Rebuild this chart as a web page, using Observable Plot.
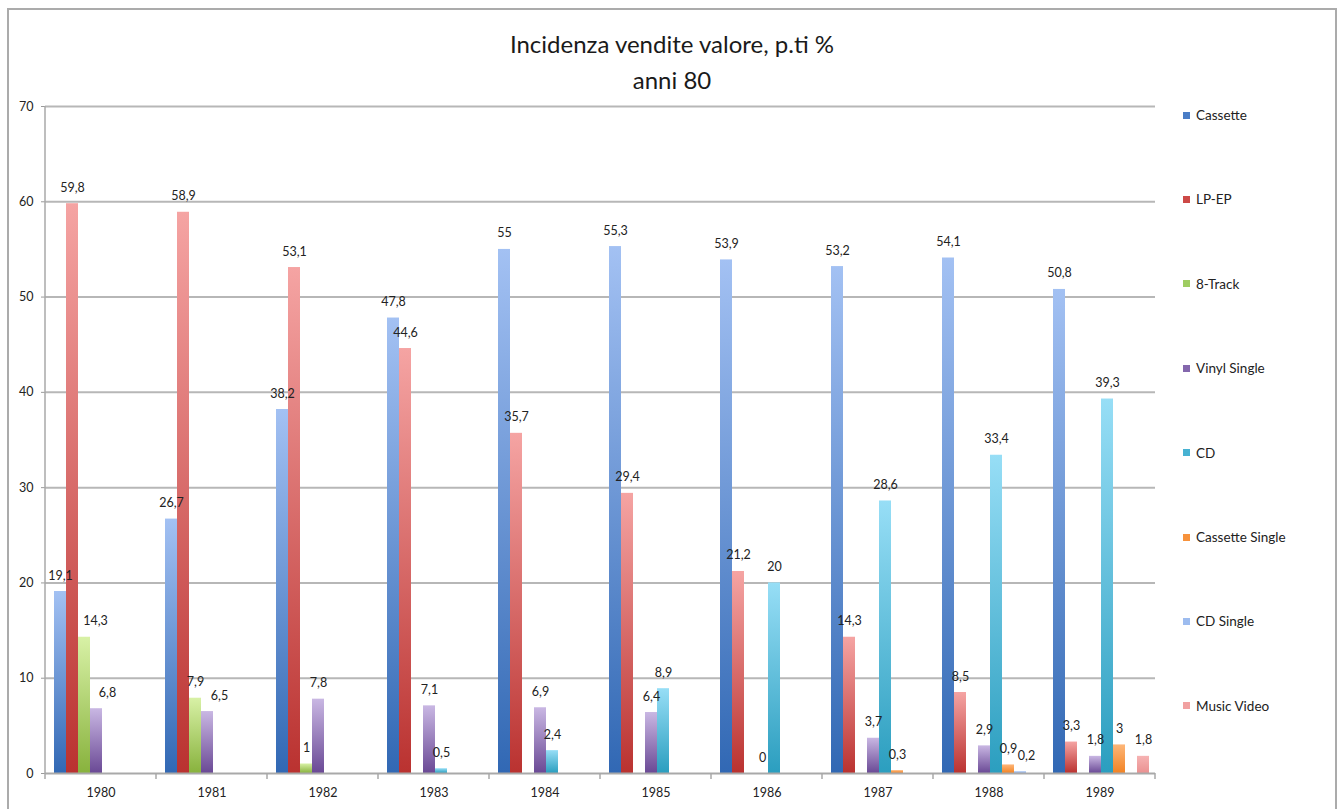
<!DOCTYPE html>
<html>
<head>
<meta charset="utf-8">
<script src="https://cdn.jsdelivr.net/npm/d3@7"></script>
<script src="https://cdn.jsdelivr.net/npm/@observablehq/plot@0.6"></script>
<style>
  html, body { margin: 0; padding: 0; background: #fff; }
  #wrap { position: relative; width: 1341px; height: 809px; overflow: hidden; font-family: Lato, "Open Sans", sans-serif; }
  #frame { position: absolute; left: 7px; top: 8px; width: 1330px; height: 812px; border: 2px solid #ababab; box-sizing: border-box; }
  #title { position: absolute; left: 7px; width: 1330px; top: 26px; text-align: center; font-size: 24px; line-height: 36px; color: #1a1a1a; }
  #chart { position: absolute; left: 0; top: 96px; }
  #chart svg text { fill: #222; }
  #legend { position: absolute; left: 1183px; top: 0; }
  .item { position: absolute; left: 0; height: 16px; white-space: nowrap; font-size: 13.5px; color: #222; display: flex; align-items: center; }
  .sw { width: 7px; height: 7px; margin-right: 6px; }
</style>
</head>
<body>
<div id="wrap">
  <div id="frame"></div>
  <div id="title">Incidenza vendite valore, p.ti %<br>anni 80</div>
  <div id="chart"></div>
  <div id="legend"></div>
</div>
<script>
// Years and format categories
const years = ["1980", "1981", "1982", "1983", "1984", "1985", "1986", "1987", "1988", "1989"];
const seriesNames = ["Cassette", "LP-EP", "8-Track", "Vinyl Single", "CD", "Cassette Single", "CD Single", "Music Video"];

// Share of sales value per format, percentage points (null = not sold that year)
const cassette       = [19.1, 26.7, 38.2, 47.8, 55, 55.3, 53.9, 53.2, 54.1, 50.8];
const lpEp           = [59.8, 58.9, 53.1, 44.6, 35.7, 29.4, 21.2, 14.3, 8.5, 3.3];
const eightTrack     = [14.3, 7.9, 1, null, null, null, null, null, null, null];
const vinylSingle    = [6.8, 6.5, 7.8, 7.1, 6.9, 6.4, 0, 3.7, 2.9, 1.8];
const cd             = [null, null, null, 0.5, 2.4, 8.9, 20, 28.6, 33.4, 39.3];
const cassetteSingle = [null, null, null, null, null, null, null, 0.3, 0.9, 3];
const cdSingle       = [null, null, null, null, null, null, null, null, 0.2, null];
const musicVideo     = [null, null, null, null, null, null, null, null, null, 1.8];

const yTicks = [0, 10, 20, 30, 40, 50, 60, 70];

const seriesValues = [cassette, lpEp, eightTrack, vinylSingle, cd, cassetteSingle, cdSingle, musicVideo];

// Bar gradients (top, bottom) and legend swatch colours
const gradientTop    = ["#a3c1f3", "#f5a4a3", "#d8f1a6", "#c9b7e3", "#97def6", "#fdb679", "#bcd2f6", "#f6b3b3"];
const gradientBottom = ["#3168b4", "#ba3230", "#88b23d", "#6a4995", "#2b9ebf", "#f28324", "#8fb0e8", "#ea9191"];
const swatch         = ["#4a7dc6", "#cd4947", "#9fcd62", "#8467ad", "#47b2d2", "#f7923c", "#9dbcef", "#f1a1a1"];

// Small horizontal nudges for crowded value labels
const labelNudge = { "1980|8-Track": 11, "1980|Vinyl Single": 11, "1981|Vinyl Single": 12, "1988|CD Single": 6 };

const rows = seriesValues.flatMap((vals, s) =>
  vals.map((v, i) => ({ year: years[i], series: seriesNames[s], value: v }))
).filter(d => d.value != null);

const fmt = v => String(v).replace(".", ",");
const nudgeOf = d => labelNudge[`${d.year}|${d.series}`] || 0;

// One text mark per nudge amount (dx is a constant option)
const nudges = Array.from(new Set(rows.map(nudgeOf)));
const labelMarks = nudges.map(dx =>
  Plot.text(rows.filter(d => nudgeOf(d) === dx), {
    fx: "year", x: "series", y: "value",
    text: d => fmt(d.value), dy: -16, dx, fontSize: 12.5, fill: "#1e1e1e"
  })
);

const plot = Plot.plot({
  width: 1160,
  height: 713,
  marginTop: 10,
  marginBottom: 36,
  marginLeft: 45,
  marginRight: 5,
  style: { fontFamily: "Lato, 'Open Sans', sans-serif", fontSize: "12.5px", color: "#9a9a9a", background: "transparent" },
  fx: { domain: years, padding: 0, label: null, axis: "bottom", tickSize: 0, tickPadding: 15 },
  x: { domain: seriesNames, paddingInner: 0, paddingOuter: 0.625, align: 0.6, axis: null },
  y: { domain: [0, 70], ticks: yTicks, tickSize: 4, tickPadding: 8, label: null },
  color: { domain: seriesNames, range: seriesNames.map((_, i) => `url(#bar-grad-${i})`) },
  marks: [
    Plot.ruleY(yTicks.slice(1), { stroke: "#b7b7b7", strokeWidth: 2 }),
    Plot.barY(rows, { fx: "year", x: "series", y: "value", fill: "series" }),
    Plot.ruleY([0], { stroke: "#a9a9a9", strokeWidth: 2 }),
    ...labelMarks
  ]
});

// Vertical gradients for the bars, one per format
const svg = d3.select(plot);
const defs = svg.insert("defs", ":first-child");
seriesNames.forEach((_, i) => {
  const g = defs.append("linearGradient")
    .attr("id", `bar-grad-${i}`)
    .attr("x1", 0).attr("y1", 0).attr("x2", 0).attr("y2", 1);
  g.append("stop").attr("offset", "0%").attr("stop-color", gradientTop[i]);
  g.append("stop").attr("offset", "100%").attr("stop-color", gradientBottom[i]);
});

// Value axis line and category separator ticks, placed with the plot's scales
const fxScale = plot.scale("fx");
const yScale = plot.scale("y");
const y0 = yScale.apply(0);
const yTop = yScale.apply(70);
const left = fxScale.apply(years[0]);
const bounds = years.map(y => fxScale.apply(y)).concat(fxScale.apply(years[years.length - 1]) + fxScale.bandwidth);
const extra = svg.append("g").attr("stroke", "#a9a9a9");
extra.append("line").attr("x1", left).attr("x2", left).attr("y1", yTop).attr("y2", y0).attr("stroke-width", 1.5);
bounds.forEach(b => {
  extra.append("line").attr("x1", b).attr("x2", b).attr("y1", y0).attr("y2", y0 + 6).attr("stroke-width", 1.5);
});

document.getElementById("chart").appendChild(plot);

// Legend on the right
const legend = d3.select("#legend");
seriesNames.forEach((name, i) => {
  const item = legend.append("div").attr("class", "item").style("top", `${115 - 8 + i * 84.4}px`);
  item.append("div").attr("class", "sw").style("background", swatch[i]);
  item.append("span").text(name);
});
</script>
</body>
</html>
